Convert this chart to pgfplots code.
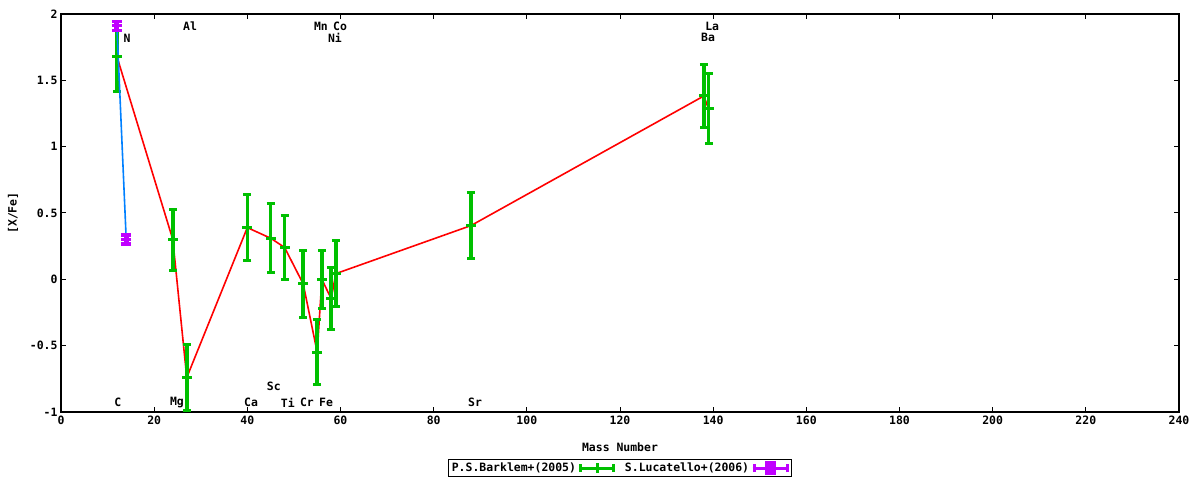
\documentclass[border=0pt]{standalone}
\usepackage{fontspec}
\setmainfont{DejaVu Sans Mono}
\setmonofont{DejaVu Sans Mono}
\usepackage{pgfplots}
\usepackage{pgfplotstable}
\pgfplotsset{compat=1.18}
\definecolor{gpred}{RGB}{255,0,0}
\definecolor{gpgreen}{RGB}{0,192,0}
\definecolor{gpblue}{RGB}{0,128,255}
\definecolor{gpmag}{RGB}{192,0,255}
\newcommand{\gfont}{\fontsize{11.5}{13}\selectfont\ttfamily\bfseries}
\pgfplotstableread{
x y e
12 1.68 0.265
24 0.30 0.23
27 -0.74 0.25
40 0.39 0.25
45 0.31 0.26
48 0.24 0.24
52 -0.035 0.25
55 -0.55 0.245
56 0.00 0.22
58 -0.146 0.235
59 0.043 0.25
88 0.405 0.25
138 1.382 0.24
139 1.286 0.265
}\barklem
\pgfplotstableread{
x y e
12 1.91 0.035
14 0.30 0.035
}\lucatello
\begin{document}
\begin{tikzpicture}
\begin{axis}[
  at={(0,0)}, anchor=south west,
  scale only axis, width=1118bp, height=398bp,
  xmin=0, xmax=240, ymin=-1, ymax=2,
  xtick distance=20, ytick distance=0.5,
  minor tick num=0,
  tick align=inside, major tick length=5bp,
  tick style={black, line width=1bp},
  axis line style={black, line width=1.2bp},
  ticklabel style={font=\gfont},
  /pgf/number format/assume math mode=true,
  yticklabel style={/pgf/number format/fixed},
  xlabel={Mass Number}, ylabel={[X/Fe]},
  every axis x label/.style={at={(axis description cs:0.5,0)}, anchor=center, yshift=-35bp, font=\gfont},
  every axis y label/.style={at={(axis description cs:0,0.5)}, xshift=-48bp, rotate=90, anchor=center, font=\gfont},
  legend plot pos=right,
  legend columns=2,
  legend style={at={(axis description cs:0.5,-0.1407)}, anchor=center, draw=black, line width=1bp, font=\gfont, inner sep=1bp, row sep=0bp,
    /tikz/every even column/.append style={column sep=6bp}},
  clip=false,
]
\addplot[gpred, line width=1.6bp, forget plot] table[x=x, y=y] {\barklem};
\addplot[gpgreen, only marks, mark=-, mark size=5bp, mark options={line width=3bp},
  line width=3.5bp,
  legend image code/.code={
    \draw[gpgreen, line width=3bp] (0bp,0bp) -- (36bp,0bp);
    \draw[gpgreen, line width=3bp] (1.5bp,-4bp) -- (1.5bp,4bp);
    \draw[gpgreen, line width=3bp] (34.5bp,-4bp) -- (34.5bp,4bp);
    \draw[gpgreen, line width=3bp] (18bp,-5bp) -- (18bp,5bp);
  },
  error bars/.cd, y dir=both, y explicit,
  error bar style={line width=3.5bp, gpgreen},
  error mark options={rotate=90, mark size=4bp, line width=3bp, gpgreen}]
  table[x=x, y=y, y error=e] {\barklem};
\addlegendentry{P.S.Barklem+(2005)}
\addplot[gpblue, line width=1.6bp, forget plot] table[x=x, y=y] {\lucatello};
\addplot[gpmag, only marks, mark=-, mark size=5bp, mark options={line width=3bp},
  line width=3.5bp,
  legend image code/.code={
    \draw[gpmag, line width=3bp] (0bp,0bp) -- (36bp,0bp);
    \draw[gpmag, line width=3bp] (1.5bp,-4bp) -- (1.5bp,4bp);
    \draw[gpmag, line width=3bp] (34.5bp,-4bp) -- (34.5bp,4bp);
    \fill[gpmag] (14bp,-5bp) rectangle (22bp,5bp);
  },
  error bars/.cd, y dir=both, y explicit,
  error bar style={line width=5bp, gpmag},
  error mark options={rotate=90, mark size=5bp, line width=3.5bp, gpmag}]
  table[x=x, y=y, y error=e] {\lucatello};
\addlegendentry{S.Lucatello+(2006)}
\begin{scope}[every node/.style={font=\gfont, inner sep=0pt}]
\node at (axis cs:12.2,-0.93) {C};
\node at (axis cs:14.2,1.82) {N};
\node at (axis cs:24.9,-0.93) {Mg};
\node at (axis cs:27.7,1.91) {Al};
\node at (axis cs:40.8,-0.93) {Ca};
\node at (axis cs:45.7,-0.81) {Sc};
\node at (axis cs:48.7,-0.93) {Ti};
\node at (axis cs:52.8,-0.93) {Cr};
\node at (axis cs:55.8,1.91) {Mn};
\node at (axis cs:56.9,-0.93) {Fe};
\node at (axis cs:58.8,1.82) {Ni};
\node at (axis cs:59.9,1.91) {Co};
\node at (axis cs:88.9,-0.93) {Sr};
\node at (axis cs:138.9,1.82) {Ba};
\node at (axis cs:139.8,1.91) {La};
\end{scope}
\end{axis}
\path[use as bounding box] (-61bp,-68bp) rectangle (1139bp,412bp);
\end{tikzpicture}
\end{document}
